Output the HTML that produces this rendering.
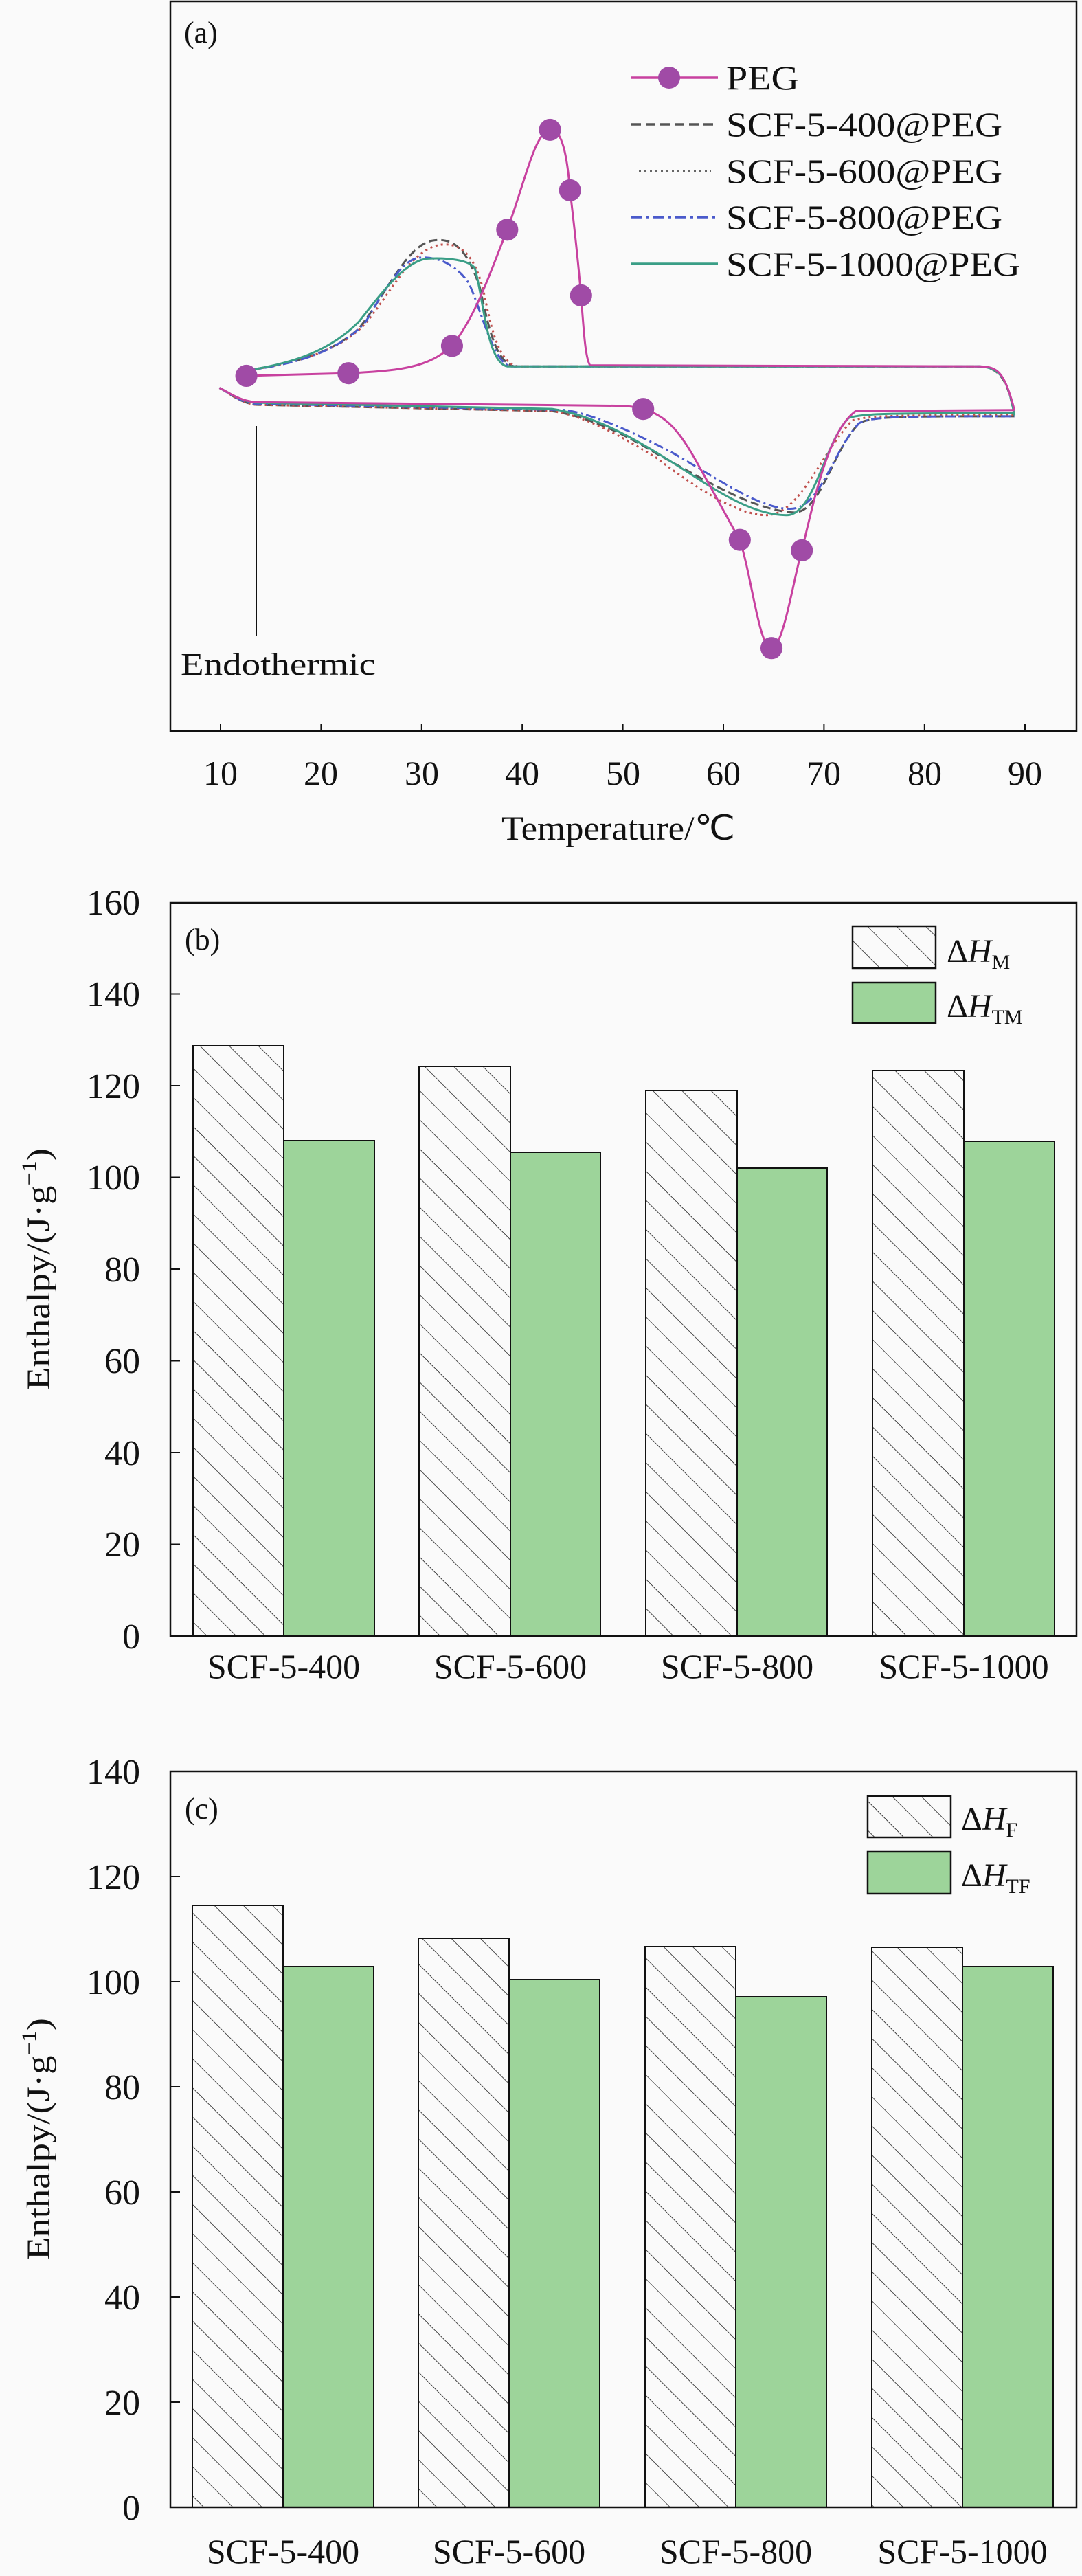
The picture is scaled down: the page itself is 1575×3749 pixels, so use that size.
<!DOCTYPE html>
<html><head><meta charset="utf-8"><style>
html,body{margin:0;padding:0;background:#fafafa;}
svg{display:block;}
text{font-family:"Liberation Serif","Times New Roman",serif;fill:#111;}
</style></head><body>
<svg width="1575" height="3749" viewBox="0 0 1575 3749" xmlns="http://www.w3.org/2000/svg">
<defs>
<pattern id="h" patternUnits="userSpaceOnUse" width="30" height="30" patternTransform="rotate(45)">
<line x1="-5" y1="0" x2="35" y2="0" stroke="#111" stroke-width="1.6"/>
</pattern>
</defs>
<rect width="1575" height="3749" fill="#fafafa"/>

<!-- Panel (a) -->
<rect x="248" y="2" width="1319" height="1062" fill="none" stroke="#111" stroke-width="2.5"/>
<g stroke="#111" stroke-width="2">
<line x1="321" y1="1064" x2="321" y2="1053"/><line x1="467.4" y1="1064" x2="467.4" y2="1053"/>
<line x1="613.8" y1="1064" x2="613.8" y2="1053"/><line x1="760.2" y1="1064" x2="760.2" y2="1053"/>
<line x1="906.6" y1="1064" x2="906.6" y2="1053"/><line x1="1053" y1="1064" x2="1053" y2="1053"/>
<line x1="1199.4" y1="1064" x2="1199.4" y2="1053"/><line x1="1345.8" y1="1064" x2="1345.8" y2="1053"/>
<line x1="1492" y1="1064" x2="1492" y2="1053"/>
</g>
<g font-size="50" text-anchor="middle">
<text x="321" y="1142">10</text><text x="467" y="1142">20</text><text x="614" y="1142">30</text>
<text x="760" y="1142">40</text><text x="907" y="1142">50</text><text x="1053" y="1142">60</text>
<text x="1199" y="1142">70</text><text x="1346" y="1142">80</text><text x="1492" y="1142">90</text>
</g>
<text x="900" y="1222" font-size="50" text-anchor="middle" textLength="340" lengthAdjust="spacingAndGlyphs">Temperature/℃</text>
<text x="268" y="62" font-size="44">(a)</text>

<g transform="scale(1.0045,0.765)" fill="none" stroke-width="3">
<!-- composite heating -->
<path vector-effect="non-scaling-stroke" stroke="#555" stroke-dasharray="12,6" d="M318,738 C330,745 345,765 370,770 L800,782 C850,792 900,822 950,862 C1020,912 1090,970 1150,975 C1190,975 1205,860 1245,805 C1265,792 1300,792 1470,792"/>
<path vector-effect="non-scaling-stroke" stroke="#c0504d" stroke-dasharray="3,5" d="M318,738 C330,745 345,765 370,770 L800,782 C850,792 900,830 950,870 C1010,930 1070,980 1110,980 C1160,980 1190,860 1235,800 C1260,790 1300,790 1470,790"/>
<path vector-effect="non-scaling-stroke" stroke="#4a5acb" stroke-dasharray="14,5,3,5" d="M318,738 C330,745 345,765 370,768 L820,780 C870,792 920,825 970,858 C1040,910 1100,968 1145,968 C1190,968 1205,860 1245,805 C1265,792 1300,792 1470,792"/>
<path vector-effect="non-scaling-stroke" stroke="#3a9e86" d="M318,738 C330,745 345,762 370,766 L800,778 C850,788 900,820 950,860 C1020,915 1080,980 1140,980 C1180,980 1195,840 1230,795 C1250,786 1300,786 1470,786"/>
<!-- composite cooling -->
<path vector-effect="non-scaling-stroke" stroke="#555" stroke-dasharray="12,6" d="M357,705 C430,690 480,672 520,625 C560,560 590,462 630,457 C665,452 680,490 695,545 C705,600 715,688 745,697 L1420,697 C1448,700 1460,720 1470,790"/>
<path vector-effect="non-scaling-stroke" stroke="#c0504d" stroke-dasharray="3,5" d="M357,705 C430,690 490,670 530,615 C570,550 600,465 645,465 C675,465 690,500 700,550 C710,610 720,690 750,697 L1420,697"/>
<path vector-effect="non-scaling-stroke" stroke="#4a5acb" stroke-dasharray="14,5,3,5" d="M357,705 C430,692 490,670 530,612 C560,545 585,490 610,490 C640,488 665,510 680,540 C700,600 715,690 740,697 L1420,697"/>
<path vector-effect="non-scaling-stroke" stroke="#3a9e86" d="M357,705 C430,690 480,665 520,612 C560,545 590,495 620,492 C650,490 680,495 688,510 C700,560 705,690 735,697 L1420,697 C1450,700 1460,720 1470,790"/>
<!-- PEG -->
<path vector-effect="non-scaling-stroke" stroke="#c8419f" d="M357,715 L505,710 C580,705 620,700 655,658 C690,600 710,520 735,437 C760,350 775,250 797,247 C815,244 822,300 826,362 C833,440 838,500 842,562 C846,630 848,680 855,695 L1420,697 C1445,698 1455,705 1470,780"/>
<path vector-effect="non-scaling-stroke" stroke="#c8419f" d="M318,738 C330,745 345,762 370,765 L900,772 C915,773 925,775 932,778 C965,790 985,820 1010,880 C1040,950 1060,1000 1072,1027 C1090,1100 1100,1233 1118,1233 C1135,1233 1150,1100 1162,1047 C1180,950 1200,820 1240,782 L1470,780"/>
<g fill="#a04ba6" stroke="none">
<ellipse cx="357" cy="715" rx="16" ry="21"/><ellipse cx="505" cy="710" rx="16" ry="21"/>
<ellipse cx="655" cy="658" rx="16" ry="21"/><ellipse cx="735" cy="437" rx="16" ry="21"/>
<ellipse cx="797" cy="247" rx="16" ry="21"/><ellipse cx="826" cy="362" rx="16" ry="21"/>
<ellipse cx="842" cy="562" rx="16" ry="21"/><ellipse cx="932" cy="778" rx="16" ry="21"/>
<ellipse cx="1072" cy="1027" rx="16" ry="21"/><ellipse cx="1118" cy="1233" rx="16" ry="21"/>
<ellipse cx="1162" cy="1047" rx="16" ry="21"/>
</g>
</g>
<line x1="373" y1="620" x2="373" y2="926" stroke="#111" stroke-width="2"/>
<text x="263" y="982" font-size="46" textLength="284" lengthAdjust="spacingAndGlyphs">Endothermic</text>
<!-- legend a -->
<g stroke-width="3.5">
<line x1="919" y1="113" x2="1045" y2="113" stroke="#c8419f"/>
<circle cx="974" cy="113" r="16" fill="#a04ba6" stroke="none"/>
<line x1="919" y1="181" x2="1045" y2="181" stroke="#555" stroke-dasharray="14,7"/>
<line x1="930" y1="249" x2="1035" y2="249" stroke="#666" stroke-dasharray="3,5"/>
<line x1="919" y1="316" x2="1045" y2="316" stroke="#4a5acb" stroke-dasharray="16,6,4,6"/>
<line x1="919" y1="384" x2="1045" y2="384" stroke="#3a9e86"/>
</g>
<g font-size="50">
<text x="1057" y="130" textLength="106" lengthAdjust="spacingAndGlyphs">PEG</text>
<text x="1057" y="198" textLength="402" lengthAdjust="spacingAndGlyphs">SCF-5-400@PEG</text>
<text x="1057" y="266" textLength="402" lengthAdjust="spacingAndGlyphs">SCF-5-600@PEG</text>
<text x="1057" y="333" textLength="402" lengthAdjust="spacingAndGlyphs">SCF-5-800@PEG</text>
<text x="1057" y="401" textLength="428" lengthAdjust="spacingAndGlyphs">SCF-5-1000@PEG</text>
</g>

<!-- Panel (b) -->
<g>
<rect x="281" y="1522" width="132" height="859" fill="url(#h)" stroke="#111" stroke-width="2"/>
<rect x="413" y="1660" width="132" height="721" fill="#9dd49a" stroke="#111" stroke-width="2"/>
<rect x="610" y="1552" width="133" height="829" fill="url(#h)" stroke="#111" stroke-width="2"/>
<rect x="743" y="1677" width="131" height="704" fill="#9dd49a" stroke="#111" stroke-width="2"/>
<rect x="940" y="1587" width="133" height="794" fill="url(#h)" stroke="#111" stroke-width="2"/>
<rect x="1073" y="1700" width="131" height="681" fill="#9dd49a" stroke="#111" stroke-width="2"/>
<rect x="1270" y="1558" width="133" height="823" fill="url(#h)" stroke="#111" stroke-width="2"/>
<rect x="1403" y="1661" width="132" height="720" fill="#9dd49a" stroke="#111" stroke-width="2"/>
</g>
<rect x="248" y="1314" width="1319" height="1067" fill="none" stroke="#111" stroke-width="2.5"/>
<g stroke="#111" stroke-width="2">
<line x1="248" y1="2247.5" x2="262" y2="2247.5"/><line x1="248" y1="2114" x2="262" y2="2114"/>
<line x1="248" y1="1980.5" x2="262" y2="1980.5"/><line x1="248" y1="1847" x2="262" y2="1847"/>
<line x1="248" y1="1713.5" x2="262" y2="1713.5"/><line x1="248" y1="1580" x2="262" y2="1580"/>
<line x1="248" y1="1446.5" x2="262" y2="1446.5"/>
</g>
<g font-size="52" text-anchor="end">
<text x="204" y="2399">0</text><text x="204" y="2265">20</text><text x="204" y="2132">40</text>
<text x="204" y="1998">60</text><text x="204" y="1865">80</text><text x="204" y="1731">100</text>
<text x="204" y="1598">120</text><text x="204" y="1464">140</text><text x="204" y="1331">160</text>
</g>
<g font-size="50" text-anchor="middle">
<text x="413" y="2442">SCF-5-400</text><text x="743" y="2442">SCF-5-600</text>
<text x="1073" y="2442">SCF-5-800</text><text x="1403" y="2442">SCF-5-1000</text>
</g>
<text x="269" y="1382" font-size="44">(b)</text>
<rect x="1241" y="1348" width="121" height="61" fill="url(#h)" stroke="#111" stroke-width="2.5"/>
<rect x="1241" y="1430" width="121" height="59" fill="#9dd49a" stroke="#111" stroke-width="2.5"/>
<text x="1378" y="1400" font-size="48">Δ<tspan font-style="italic">H</tspan><tspan font-size="30" dy="10">M</tspan></text>
<text x="1378" y="1480" font-size="48">Δ<tspan font-style="italic">H</tspan><tspan font-size="30" dy="10">TM</tspan></text>
<text transform="translate(72,1847) rotate(-90)" font-size="48" text-anchor="middle" textLength="352" lengthAdjust="spacingAndGlyphs">Enthalpy/(J·g<tspan font-size="30" dy="-20">−1</tspan><tspan dy="20">)</tspan></text>

<!-- Panel (c) -->
<g>
<rect x="280" y="2773" width="132" height="876" fill="url(#h)" stroke="#111" stroke-width="2"/>
<rect x="412" y="2862" width="132" height="787" fill="#9dd49a" stroke="#111" stroke-width="2"/>
<rect x="609" y="2821" width="132" height="828" fill="url(#h)" stroke="#111" stroke-width="2"/>
<rect x="741" y="2881" width="132" height="768" fill="#9dd49a" stroke="#111" stroke-width="2"/>
<rect x="939" y="2833" width="132" height="816" fill="url(#h)" stroke="#111" stroke-width="2"/>
<rect x="1071" y="2906" width="132" height="743" fill="#9dd49a" stroke="#111" stroke-width="2"/>
<rect x="1269" y="2834" width="132" height="815" fill="url(#h)" stroke="#111" stroke-width="2"/>
<rect x="1401" y="2862" width="132" height="787" fill="#9dd49a" stroke="#111" stroke-width="2"/>
</g>
<rect x="248" y="2578" width="1319" height="1071" fill="none" stroke="#111" stroke-width="2.5"/>
<g stroke="#111" stroke-width="2">
<line x1="248" y1="3496" x2="262" y2="3496"/><line x1="248" y1="3343" x2="262" y2="3343"/>
<line x1="248" y1="3190" x2="262" y2="3190"/><line x1="248" y1="3037" x2="262" y2="3037"/>
<line x1="248" y1="2884" x2="262" y2="2884"/><line x1="248" y1="2731" x2="262" y2="2731"/>
</g>
<g font-size="52" text-anchor="end">
<text x="204" y="3667">0</text><text x="204" y="3514">20</text><text x="204" y="3361">40</text>
<text x="204" y="3208">60</text><text x="204" y="3055">80</text><text x="204" y="2902">100</text>
<text x="204" y="2749">120</text><text x="204" y="2596">140</text>
</g>
<g font-size="50" text-anchor="middle">
<text x="412" y="3730">SCF-5-400</text><text x="741" y="3730">SCF-5-600</text>
<text x="1071" y="3730">SCF-5-800</text><text x="1401" y="3730">SCF-5-1000</text>
</g>
<text x="269" y="2647" font-size="44">(c)</text>
<rect x="1263" y="2614" width="121" height="60" fill="url(#h)" stroke="#111" stroke-width="2.5"/>
<rect x="1263" y="2695" width="121" height="61" fill="#9dd49a" stroke="#111" stroke-width="2.5"/>
<text x="1399" y="2663" font-size="48">Δ<tspan font-style="italic">H</tspan><tspan font-size="30" dy="10">F</tspan></text>
<text x="1399" y="2745" font-size="48">Δ<tspan font-style="italic">H</tspan><tspan font-size="30" dy="10">TF</tspan></text>
<text transform="translate(72,3113) rotate(-90)" font-size="48" text-anchor="middle" textLength="352" lengthAdjust="spacingAndGlyphs">Enthalpy/(J·g<tspan font-size="30" dy="-20">−1</tspan><tspan dy="20">)</tspan></text>
</svg>
</body></html>
